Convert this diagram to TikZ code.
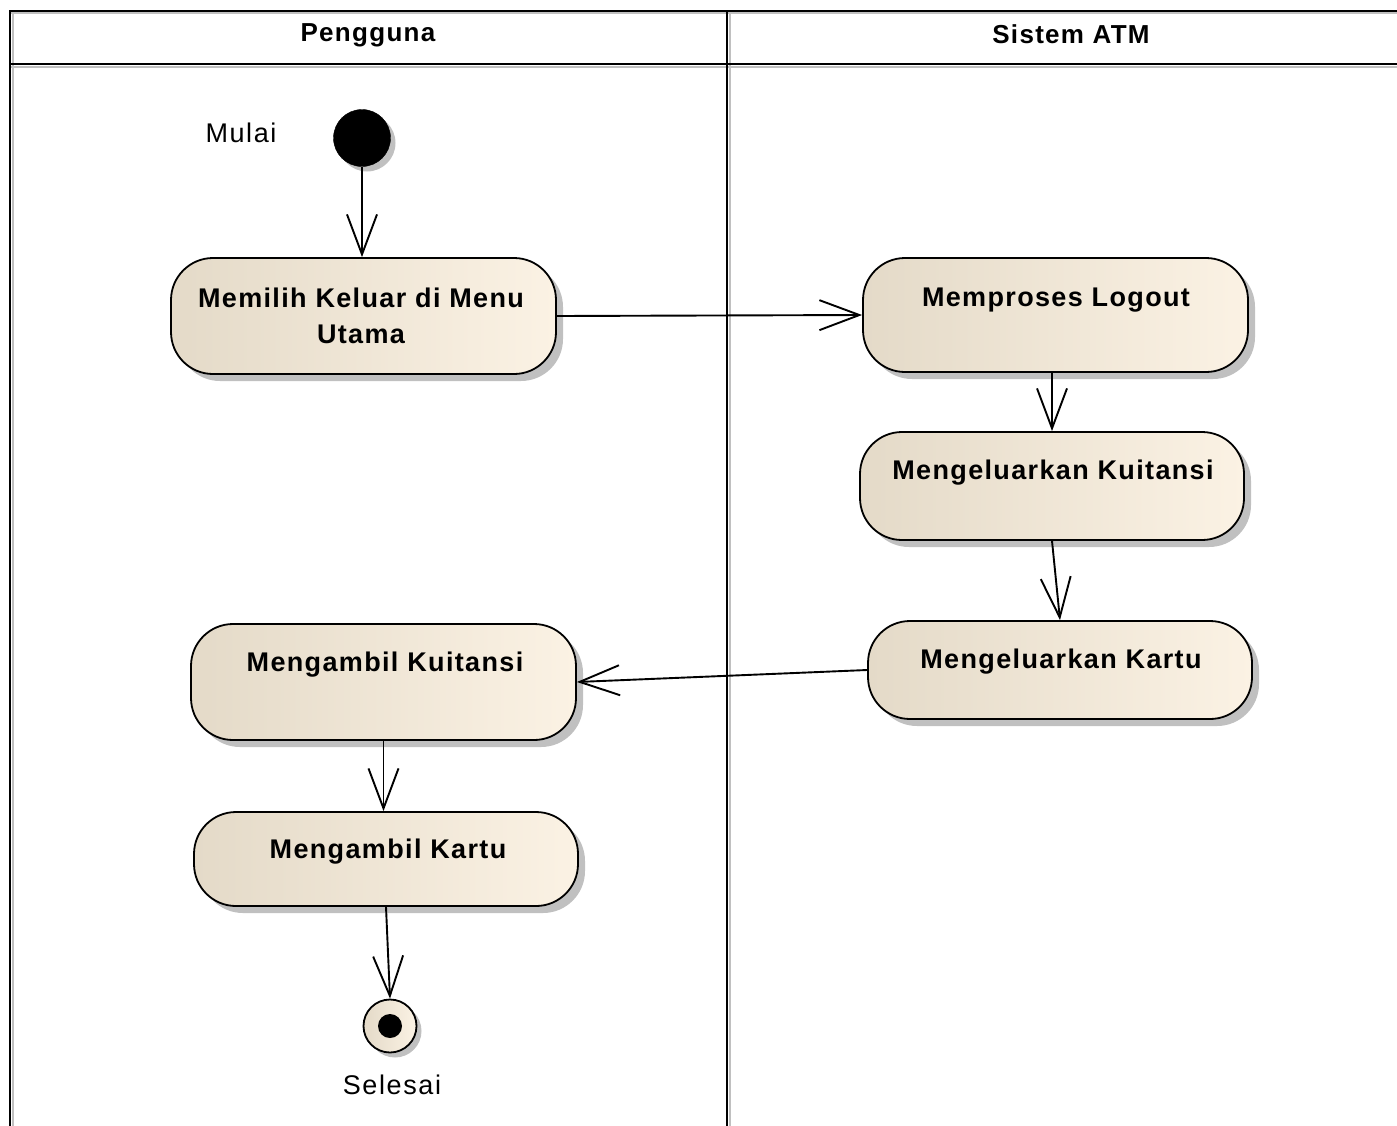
\documentclass[tikz,border=0pt]{standalone}
\usepackage{fontspec}
\setmainfont{Liberation Sans}[LetterSpace=6]
\newfontfamily\actfont{Liberation Sans}[LetterSpace=5]
\usetikzlibrary{arrows.meta,shadows}
\definecolor{actL}{RGB}{228,218,200}
\definecolor{actR}{RGB}{251,242,228}
\definecolor{shadowgray}{RGB}{192,192,192}
\begin{document}
\begin{tikzpicture}[x=1pt,y=-1pt,
  lane/.style={line width=2.6pt,line cap=rect},
  laneshadow/.style={line width=2.2pt,draw=shadowgray,line cap=rect},
  act/.style={rectangle,rounded corners=42pt,draw=black,line width=1.8pt,
    left color=actL,right color=actR,inner sep=0pt,
    drop shadow={shadow xshift=7pt,shadow yshift=-7pt,fill=shadowgray,opacity=1}},
  acttext/.style={font=\actfont\bfseries\fontsize{27}{36}\selectfont,align=center,inner sep=0pt},
  plain/.style={font=\fontsize{27}{30}\selectfont,inner sep=0pt},
  head/.style={font=\actfont\bfseries\fontsize{26}{28}\selectfont,inner sep=0pt},
  flow/.style={line width=1.9pt,-{Straight Barb[length=40pt,width=30pt]}}
]
\useasboundingbox (0,0) rectangle (1397,1125);
% swimlane frame shadows
\draw[laneshadow] (12,13) -- (1397,13);
\draw[laneshadow] (12,67) -- (1397,67);
\draw[laneshadow] (13,13) -- (13,1125);
\draw[laneshadow] (730,13) -- (730,1125);
% swimlane frame
\draw[lane] (10,11) -- (1397,11);
\draw[lane] (10,64) -- (1397,64);
\draw[lane] (10,11) -- (10,1125);
\draw[lane] (727,11) -- (727,1125);
\node[head] (h1) at (368,35) {Pengguna};
\node[head] (h2) at (1071,34) {Sistem ATM};

% start
\node[circle,fill=black,draw=black,minimum size=57pt,inner sep=0pt,
  drop shadow={shadow xshift=5pt,shadow yshift=-5pt,fill=shadowgray,opacity=1}] (start) at (362,138) {};
\node[plain] (mulai) at (241,133) {Mulai};

% activities
\node[act,minimum width=385pt,minimum height=116pt] (A) at (363.5,316) {};
\node[acttext] (At) at (361,316) {Memilih Keluar di Menu\\Utama};
\node[act,minimum width=385pt,minimum height=114pt] (B) at (1055.5,315) {};
\node[acttext] (Bt) at (1056,300) {Memproses Logout};
\node[act,minimum width=384pt,minimum height=108pt] (C) at (1052,486) {};
\node[acttext] (Ct) at (1053,473) {Mengeluarkan Kuitansi};
\node[act,minimum width=384pt,minimum height=98pt] (D) at (1060,670) {};
\node[acttext] (Dt) at (1061,662) {Mengeluarkan Kartu};
\node[act,minimum width=385pt,minimum height=116pt] (E) at (383.5,682) {};
\node[acttext] (Et) at (385,665) {Mengambil Kuitansi};
\node[act,minimum width=384pt,minimum height=94pt] (F) at (386,859) {};
\node[acttext] (Ft) at (388,852) {Mengambil Kartu};

% end
\node[circle,draw=black,line width=1.8pt,left color=actL,right color=actR,
  minimum size=53pt,inner sep=0pt,
  drop shadow={shadow xshift=5pt,shadow yshift=-5pt,fill=shadowgray,opacity=1}] (end) at (390,1026) {};
\node[circle,fill=black,minimum size=24pt,inner sep=0pt] (enddot) at (end.center) {};
\node[plain] (selesai) at (392,1085) {Selesai};

% flows
\draw[flow] (start.south) -- (start.south |- A.north);
\draw[flow] (A.east) -- (B.west);
\draw[flow] (B.south -| C.north) -- (C.north);
\draw[flow] (C.south) -- (D.north);
\draw[flow] (D.west) -- (E.east);
\draw[flow] (E.south) -- (E.south |- F.north);
\draw[flow] (F.south) -- (end.north);
\end{tikzpicture}
\end{document}
